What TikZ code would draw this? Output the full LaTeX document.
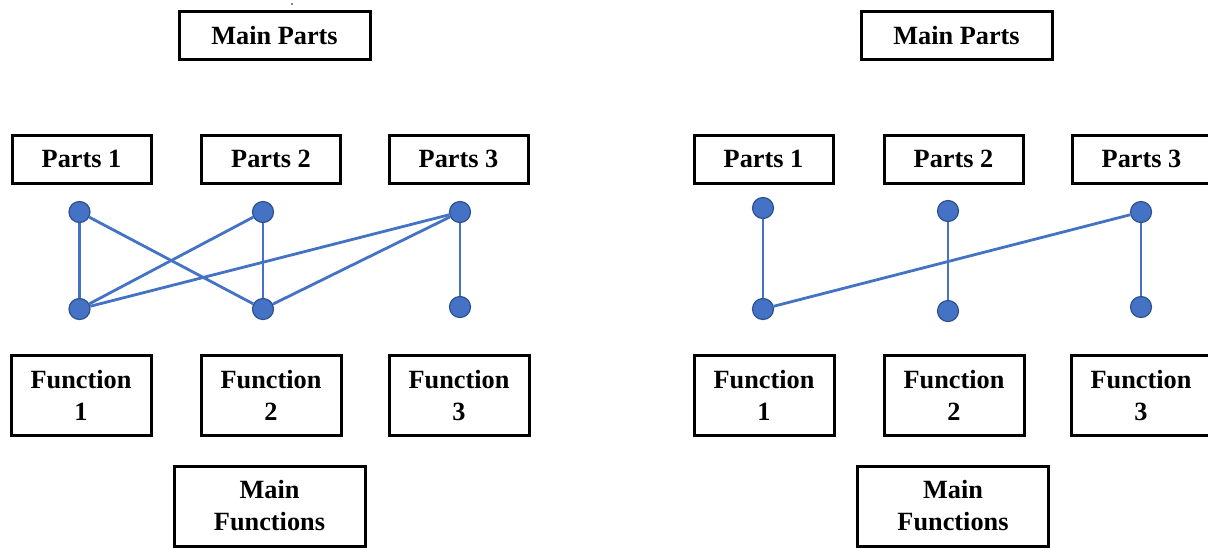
\documentclass[tikz,border=0pt]{standalone}
\usepackage{fontspec}
\setmainfont{Liberation Serif}
\definecolor{dotblue}{HTML}{4472C4}
\definecolor{dotedge}{HTML}{2F528F}
\tikzset{
  lbl/.style={draw=black, line width=3pt, inner sep=0pt, align=center,
    font=\fontsize{26.3}{32}\selectfont\bfseries},
  wide/.style={lbl, minimum width=191pt, minimum height=48pt},
  partbox/.style={lbl, minimum width=139pt, minimum height=48pt},
  funcbox/.style={lbl, minimum width=140pt, minimum height=80pt},
  mainfunc/.style={lbl, minimum width=191pt, minimum height=80pt},
  dot/.style={circle, fill=dotblue, draw=dotedge, line width=1.2pt,
    minimum size=21pt, inner sep=0pt},
  link/.style={draw=dotblue, line width=2.8pt}
}
\begin{document}
\begin{tikzpicture}[x=1pt, y=-1pt]
\useasboundingbox (0,0) rectangle (1208,547);
\clip (0,0) rectangle (1208,547);
\fill[white] (0,0) rectangle (1208,547);
\fill[black] (292,4) circle (0.8pt);

% ---------- left network ----------
\node[wide]     (LMP) at (274.5,35.5) {Main Parts};
\node[partbox]  (Lp1) at (81.5,159)  {Parts 1};
\node[partbox]  (Lp2) at (271,159)   {Parts 2};
\node[partbox]  (Lp3) at (458.5,159) {Parts 3};
\node[funcbox]  (Lf1) at (81,395)    {Function\\1};
\node[funcbox]  (Lf2) at (271,395)   {Function\\2};
\node[funcbox]  (Lf3) at (459,395)   {Function\\3};
\node[mainfunc] (LMF) at (269.5,506) {Main\\Functions};

\node[dot] (Lt1) at (79.5,212) {};
\node[dot] (Lt2) at (263,212)  {};
\node[dot] (Lt3) at (460,212)  {};
\node[dot] (Lb1) at (79.5,309) {};
\node[dot] (Lb2) at (263,309)  {};
\node[dot] (Lb3) at (460,307)  {};

\draw[link] (Lt1) -- (Lb1);
\draw[link] (Lt1) -- (Lb2);
\draw[link] (Lt2) -- (Lb1);
\draw[link] (Lt2) -- (Lb2);
\draw[link] (Lt3) -- (Lb1);
\draw[link] (Lt3) -- (Lb2);
\draw[link] (Lt3) -- (Lb3);

% ---------- right network ----------
\node[wide]     (RMP) at (956.5,35.5) {Main Parts};
\node[partbox]  (Rp1) at (763.5,159)  {Parts 1};
\node[partbox]  (Rp2) at (953.5,159)  {Parts 2};
\node[partbox]  (Rp3) at (1141.5,159) {Parts 3};
\node[funcbox]  (Rf1) at (764,395)    {Function\\1};
\node[funcbox]  (Rf2) at (954,395)    {Function\\2};
\node[funcbox]  (Rf3) at (1141,395)   {Function\\3};
\node[mainfunc] (RMF) at (953,506)    {Main\\Functions};

\node[dot] (Rt1) at (763,208)  {};
\node[dot] (Rt2) at (948,211)  {};
\node[dot] (Rt3) at (1141,212) {};
\node[dot] (Rb1) at (763,309)  {};
\node[dot] (Rb2) at (948,311)  {};
\node[dot] (Rb3) at (1141,307) {};

\draw[link] (Rt1) -- (Rb1);
\draw[link] (Rt2) -- (Rb2);
\draw[link] (Rt3) -- (Rb3);
\draw[link] (Rt3) -- (Rb1);
\end{tikzpicture}
\end{document}
